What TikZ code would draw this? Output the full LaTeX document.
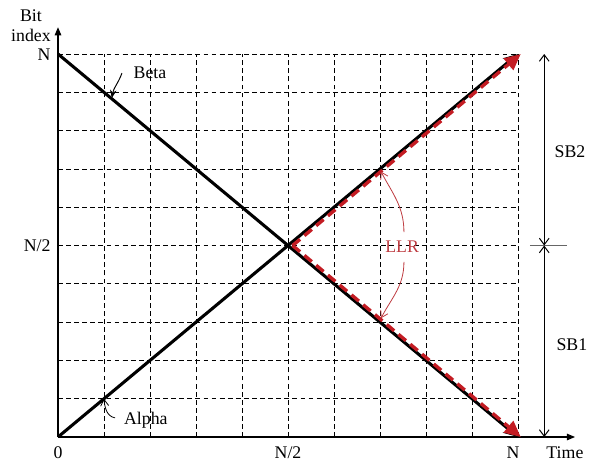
\documentclass[tikz,border=0pt]{standalone}
\usepackage{fontspec}
\setmainfont{Liberation Serif}
\usetikzlibrary{arrows.meta,positioning,calc}
\definecolor{llrred}{RGB}{195,28,35}
\definecolor{llrtext}{RGB}{190,60,65}

\begin{document}
\begin{tikzpicture}[x=1cm,y=0.8326cm,>=Stealth,
  lbl/.style={font=\fontsize{11}{12.5}\selectfont,inner sep=1pt},
  gridline/.style={dash pattern=on 3pt off 2pt,line width=0.5pt},
  trellis/.style={line width=1.9pt,-{Stealth[length=9pt,width=8pt]}},
  llrpath/.style={llrred,line width=2.1pt,dash pattern=on 6pt off 3.5pt,
    -{Triangle[length=10pt,width=9pt,fill=llrred]}},
  pointer/.style={line width=0.5pt,-{Straight Barb[length=4pt,width=5pt]}}]
  \useasboundingbox (-1.261,-0.627) rectangle (11.717,11.41);
  \coordinate (O) at (0,0);
  \coordinate (NN) at (10,10);
  \coordinate (N0) at (10,0);
  \coordinate (0N) at (0,10);
  \coordinate (M) at (5,5);
  % grid
  \foreach \k in {1,...,10} {
    \draw[gridline] (\k,0) -- (\k,10);
    \draw[gridline] (0,\k) -- (10,\k);
  }
  % axes
  \coordinate (ytip) at (0,10.7);
  \coordinate (xtip) at (11.24,0);
  \draw[line width=0.7pt,-{Triangle[length=5pt,width=4pt]}] (O) -- (ytip);
  \draw[line width=0.7pt,-{Triangle[length=5pt,width=4pt]}] (O) -- (xtip);
  \node[lbl,align=center] (yname) at (-0.587,10.74) {Bit\\index};
  \node[lbl,anchor=east] (yN) at (-0.12,9.97) {N};
  \node[lbl,anchor=east] (yH) at (-0.12,5) {N/2};
  \node[lbl] (x0) at (0,-0.4) {0};
  \node[lbl] (xH) at (5,-0.4) {N/2};
  \node[lbl] (xN) at (9.89,-0.4) {N};
  \node[lbl] (xname) at (11.02,-0.4) {Time};
  % alpha and beta
  \draw[trellis] (O) -- (NN);
  \draw[trellis] (0N) -- (N0);
  % LLR part
  \coordinate (Mr) at (5.1,5);
  \coordinate (NNr) at (10.06,10);
  \coordinate (N0r) at (10.06,0);
  \draw[llrpath] (Mr) -- (NNr);
  \draw[llrpath] (Mr) -- (N0r);
  % labels
  \node[lbl] (beta) at (2.0,9.5) {Beta};
  \node[lbl] (alpha) at (1.91,0.44) {Alpha};
  \node[lbl,llrtext] (llr) at (7.48,4.96) {LLR};
  \coordinate (betaS) at (1.39,9.5);
  \coordinate (betaT) at (1.17,8.85);
  \draw[line width=0.6pt,-{Stealth[length=5pt,width=4pt]}] (betaS) to[out=-110,in=80] (betaT);
  \coordinate (alphaS) at (1.24,0.5);
  \draw[pointer] (alphaS) to[out=170,in=-85] (1,1);
  \coordinate (llrA) at (7.52,5.35);
  \coordinate (llrB) at (7.52,4.57);
  \draw[pointer,llrtext] (llrA) to[out=90,in=-62] (7.02,6.93);
  \draw[pointer,llrtext] (llrB) to[out=-90,in=62] (7.02,3.1);
  % sub-blocks
  \coordinate (sbT) at (10.57,10);
  \coordinate (sbM) at (10.57,5);
  \coordinate (sbB) at (10.57,0);
  \draw[gray!80!black,line width=0.7pt] (10.26,5) -- (11.07,5);
  \draw[line width=0.6pt,{Straight Barb[length=4pt,width=6pt]}-{Straight Barb[length=4pt,width=6pt]}] (sbT) -- (sbM);
  \draw[line width=0.6pt,{Straight Barb[length=4pt,width=6pt]}-{Straight Barb[length=4pt,width=6pt]}] (sbM) -- (sbB);
  \node[lbl] (sb2) at (11.13,7.44) {SB2};
  \node[lbl] (sb1) at (11.17,2.4) {SB1};
\end{tikzpicture}
\end{document}
